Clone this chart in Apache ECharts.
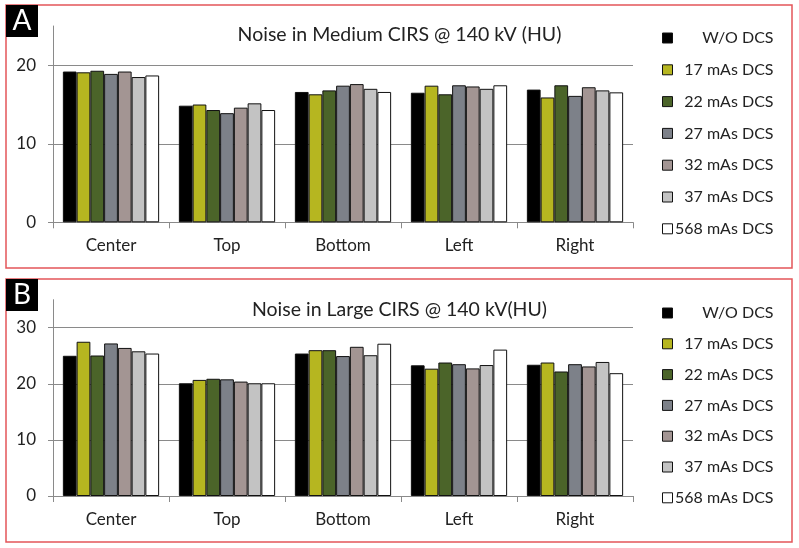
<!DOCTYPE html>
<html>
<head>
<meta charset="utf-8">
<script src="https://cdn.jsdelivr.net/npm/echarts@6/dist/echarts.min.js"></script>
<style>html,body{margin:0;padding:0;background:#fff;}#c{width:799px;height:548px;}</style>
</head>
<body>
<div id="c"></div>
<script>
var categories = ['Center', 'Top', 'Bottom', 'Left', 'Right'];
var seriesNames = ['W/O DCS', '17 mAs DCS', '22 mAs DCS', '27 mAs DCS', '32 mAs DCS', '37 mAs DCS', '568 mAs DCS'];
var titleA = 'Noise in Medium CIRS @ 140 kV (HU)';
var titleB = 'Noise in Large CIRS @ 140 kV(HU)';
// Panel A (Medium CIRS), one array per series, values per category
var mediumWO   = [19.2, 14.85, 16.6, 16.5, 16.9];
var medium17   = [19.1, 15.0, 16.3, 17.4, 15.9];
var medium22   = [19.3, 14.3, 16.8, 16.3, 17.45];
var medium27   = [18.9, 13.9, 17.4, 17.45, 16.1];
var medium32   = [19.2, 14.6, 17.6, 17.3, 17.2];
var medium37   = [18.5, 15.15, 17.0, 17.0, 16.8];
var medium568  = [18.7, 14.3, 16.6, 17.45, 16.55];
// Panel B (Large CIRS)
var largeWO    = [25.0, 20.1, 25.4, 23.3, 23.4];
var large17    = [27.5, 20.7, 26.0, 22.7, 23.8];
var large22    = [25.05, 20.9, 26.0, 23.8, 22.2];
var large27    = [27.2, 20.8, 24.95, 23.5, 23.5];
var large32    = [26.4, 20.4, 26.6, 22.75, 23.1];
var large37    = [25.8, 20.1, 25.1, 23.35, 23.9];
var large568   = [25.4, 20.1, 27.15, 26.1, 21.9];
var yTicksA = [0, 10, 20];
var yTicksB = [0, 10, 20, 30];

var mediumData = [mediumWO, medium17, medium22, medium27, medium32, medium37, medium568];
var largeData = [largeWO, large17, large22, large27, large32, large37, large568];
var colors = ['#000000', '#b6b620', '#4b6429', '#7d8189', '#a39593', '#c3c3c3', '#ffffff'];
var FONT = 'Lato';

var chart = echarts.init(document.getElementById('c'), null, {renderer: 'canvas'});

function mkSeries(data, idx) {
  return data.map(function (vals, i) {
    return {
      name: seriesNames[i],
      type: 'bar',
      xAxisIndex: idx, yAxisIndex: idx,
      data: vals,
      barGap: '0%',
      barCategoryGap: '17%',
      itemStyle: {color: colors[i], borderColor: '#111', borderWidth: 1},
      emphasis: {disabled: true},
      animation: false
    };
  });
}

function mkX(idx) {
  return {
    type: 'category', gridIndex: idx, data: categories,
    axisLine: {lineStyle: {color: '#8a8a8a', width: 1}},
    axisTick: {show: true, length: 6, lineStyle: {color: '#8a8a8a'}},
    axisLabel: {fontFamily: FONT, fontSize: 17, color: '#222', margin: 15}
  };
}
function mkY(idx, max, ticks) {
  return {
    type: 'value', gridIndex: idx, min: ticks[0], max: max, interval: ticks[1] - ticks[0],
    axisLine: {show: true, lineStyle: {color: '#8a8a8a', width: 1}},
    axisTick: {show: true, length: 5, lineStyle: {color: '#8a8a8a'}},
    axisLabel: {fontFamily: FONT, fontSize: 17, color: '#222', margin: 17, showMaxLabel: false},
    splitLine: {show: true, showMaxLine: false, lineStyle: {color: '#8a8a8a', width: 1}}
  };
}
function mkLegend(top, gap) {
  return {
    orient: 'vertical', left: 662, top: top, padding: 0,
    itemWidth: 10, itemHeight: 10, itemGap: gap, icon: 'rect',
    data: seriesNames,
    itemStyle: {borderColor: '#111', borderWidth: 1},
    formatter: function (n) { return '{n|' + n + '}'; },
    textStyle: {rich: {n: {width: 96, align: 'right', fontFamily: FONT, fontSize: 16, color: '#222', lineHeight: 18}}},
    selectedMode: false
  };
}

var option = {
  backgroundColor: '#fff',
  animation: false,
  title: [
    {text: titleA, left: 'center', top: 23.5, textStyle: {fontFamily: FONT, fontSize: 19.5, fontWeight: 'normal', color: '#222', lineHeight: 22}, padding: 0},
    {text: titleB, left: 'center', top: 299, textStyle: {fontFamily: FONT, fontSize: 19.5, fontWeight: 'normal', color: '#222', lineHeight: 22}, padding: 0}
  ],
  legend: [mkLegend(30, 15.8), mkLegend(305, 14.8)],
  grid: [
    {left: 53, right: 166, top: 26, bottom: 325.7},
    {left: 53, right: 166, top: 299.7, bottom: 52}
  ],
  xAxis: [mkX(0), mkX(1)],
  yAxis: [mkY(0, 25, yTicksA), mkY(1, 35, yTicksB)],
  series: mkSeries(mediumData, 0).concat(mkSeries(largeData, 1)),
  graphic: [
    {type: 'rect', shape: {x: 6, y: 5, width: 786, height: 263}, style: {fill: null, stroke: '#e4555a', lineWidth: 1.5}, silent: true, z: -1},
    {type: 'rect', shape: {x: 6, y: 279, width: 786, height: 263}, style: {fill: null, stroke: '#e4555a', lineWidth: 1.5}, silent: true, z: -1},
    {type: 'rect', shape: {x: 6, y: 5, width: 32, height: 32}, style: {fill: '#000'}, silent: true},
    {type: 'text', x: 22, y: 21, style: {text: 'A', fill: '#fff', font: '28px ' + FONT, align: 'center', verticalAlign: 'middle'}, silent: true},
    {type: 'rect', shape: {x: 6, y: 279, width: 32, height: 32}, style: {fill: '#000'}, silent: true},
    {type: 'text', x: 22, y: 295, style: {text: 'B', fill: '#fff', font: '28px ' + FONT, align: 'center', verticalAlign: 'middle'}, silent: true}
  ]
};
chart.setOption(option);
</script>
</body>
</html>
